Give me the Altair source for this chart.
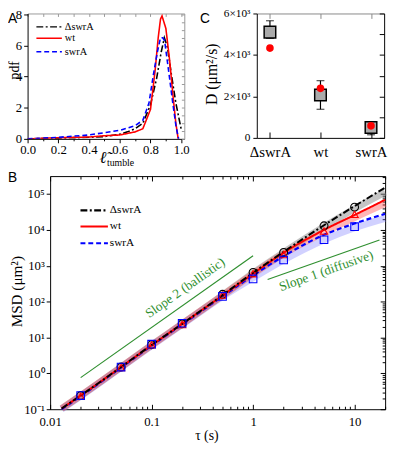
import altair as alt
import pandas as pd

SERIF = "Liberation Serif"
SANS = "Liberation Sans"
GREEN = "#2f8f2f"

strains = ["ΔswrA", "wt", "swrA"]
line_colors = ["#000000", "#ff0000", "#0000ff"]
line_dashes = [[7, 2.5, 2, 2.5], [1, 0], [5, 3]]
marker_shapes = ["circle", "triangle-up", "square"]
# translucent bands, drawn in this order
band_order = ["ΔswrA", "swrA", "wt"]
band_colors = {"ΔswrA": "#8a8a8a", "wt": "#ff5050", "swrA": "#7070ff"}
band_opacity = {"ΔswrA": 0.5, "wt": 0.42, "swrA": 0.32}

# ---------------- Panel A : pdf of normalised tumble length ----------------
A_len = {
    "ΔswrA": [0.0, 0.2, 0.4, 0.5, 0.6, 0.65, 0.7, 0.75, 0.8, 0.84, 0.87, 0.89, 0.91, 0.935, 0.965, 1.0],
    "wt": [0.0, 0.2, 0.4, 0.5, 0.6, 0.65, 0.7, 0.75, 0.8, 0.83, 0.85, 0.865, 0.875, 0.9, 0.925, 0.945, 0.965, 0.98],
    "swrA": [0.0, 0.2, 0.4, 0.5, 0.6, 0.7, 0.75, 0.79, 0.82, 0.845, 0.865, 0.88, 0.892, 0.924, 0.945, 0.966, 0.983],
}
A_pdf = {
    "ΔswrA": [0.0, 0.05, 0.1, 0.15, 0.3, 0.45, 0.65, 1.0, 2.2, 3.9, 5.6, 6.5, 5.9, 4.2, 2.3, 0.6],
    "wt": [0.0, 0.07, 0.12, 0.2, 0.25, 0.35, 0.45, 0.65, 1.9, 4.4, 6.5, 7.7, 7.9, 7.1, 5.0, 2.9, 1.0, 0.0],
    "swrA": [0.0, 0.1, 0.25, 0.4, 0.55, 0.85, 1.2, 2.3, 4.2, 5.6, 6.5, 6.5, 6.3, 3.9, 2.3, 0.8, 0.0],
}
A_xticks = [0.0, 0.1, 0.2, 0.3, 0.4, 0.5, 0.6, 0.7, 0.8, 0.9, 1.0]
A_xlabels = ["0.0", "0.2", "0.4", "0.6", "0.8", "1.0"]
A_yticks = [0, 2, 4, 6, 8]
A_ylabels = ["0", "2", "4", "6", "8"]
A_rticks = [0, 0.5, 1, 1.5, 2, 2.5, 3, 3.5, 4, 4.5, 5, 5.5, 6, 6.5, 7, 7.5, 8]

# ---------------- Panel B : MSD ----------------
B_tau = [0.013, 0.02, 0.05, 0.1, 0.2, 0.5, 1, 2, 5, 10, 20]
B_line = {
    "ΔswrA": [0.105, 0.24, 1.5, 6.2, 24, 152, 640, 2450, 13500, 46000, 150000],
    "wt": [0.105, 0.24, 1.5, 6.1, 24, 148, 600, 2300, 10000, 26000, 69000],
    "swrA": [0.1, 0.23, 1.45, 5.9, 23, 140, 540, 1850, 7300, 15000, 28000],
}
B_band = {
    "ΔswrA": [0.105, 0.24, 1.5, 6.2, 24, 150, 630, 2350, 12300, 39000, 112000],
    "wt": [0.105, 0.24, 1.5, 6.1, 24, 148, 590, 2150, 8500, 22000, 54000],
    "swrA": [0.1, 0.23, 1.45, 5.9, 23, 138, 460, 1450, 5300, 11500, 21000],
}
B_mtau = [0.02, 0.05, 0.1, 0.2, 0.5, 1, 2, 5, 10]
B_marker = {
    "ΔswrA": [0.24, 1.5, 6.3, 24, 160, 650, 2350, 13000, 43000],
    "wt": [0.23, 1.45, 6.2, 23, 152, 600, 2050, 9300, 27000],
    "swrA": [0.24, 1.5, 6.5, 25, 140, 430, 1450, 5300, 12300],
}
slope_tau = {"Slope 2 (ballistic)": [0.02, 1.0], "Slope 1 (diffusive)": [1.39, 17.6]}
slope_msd = {"Slope 2 (ballistic)": [0.76, 1900], "Slope 1 (diffusive)": [415, 5250]}
slope_text_tau = [0.215, 5.25]
slope_text_msd = [240, 713]
slope_text_angle = [324.7, 340.5]

B_xlabels = ["0.01", "0.1", "1", "10"]
B_ylabels = ["10\u207b\u00b9", "10\u2070", "10\u00b9", "10\u00b2", "10\u00b3", "10\u2074", "10\u2075"]
B_ymajor = [0.1, 1, 10, 100, 1000, 10000, 100000]

# ---------------- Panel C : diffusion coefficient ----------------
C_D_square = [5100, 2070, 500]
C_err_lo = [4800, 1380, 150]
C_err_hi = [5650, 2760, 680]
C_D_red = [4330, 2390, 580]
C_yticks = [0, 2000, 4000, 6000]
C_ylabels = ["0", "2\u00d710\u00b3", "4\u00d710\u00b3", "6\u00d710\u00b3"]
C_rticks = [0, 1000, 2000, 3000, 4000, 5000, 6000]


def log_ticks(lo_exp, hi_exp, vmax):
    out = []
    for e in range(lo_exp, hi_exp + 1):
        for k in range(1, 10):
            v = k * 10.0 ** e
            if v <= vmax * 1.0001:
                out.append(v)
    return out


def js_list(items):
    return "[" + ",".join("'" + s + "'" for s in items) + "]"


def text_layer(txt, x, y, size, font=SERIF, angle=None, align="center",
               baseline="middle", color="black", style=None):
    kw = dict(font=font, fontSize=size, align=align, baseline=baseline, color=color)
    if angle is not None:
        kw["angle"] = angle
    if style:
        kw["fontStyle"] = style
    return alt.Chart(pd.DataFrame({"t": [txt]})).mark_text(**kw).encode(
        x=alt.value(x), y=alt.value(y), text="t:N")


def legend_layers(x0, x1, ys, label_x, size, widths):
    out = []
    for s, c, d, y, w in zip(strains, line_colors, line_dashes, ys, widths):
        out.append(alt.Chart(pd.DataFrame({"s": [s]})).mark_rule(
            color=c, strokeDash=d, strokeWidth=w).encode(
            x=alt.value(x0), x2=alt.value(x1), y=alt.value(y)))
        out.append(text_layer(s, label_x, y, size, align="left"))
    return out


def cond_size(test, major, minor):
    return {"condition": {"test": test, "value": major}, "value": minor}


LOGMAJ = "abs(log(datum.value)/LN10 - round(log(datum.value)/LN10)) < 1e-6"

# ======================= Panel A chart =======================
A_sx = alt.Scale(domain=[0, 1.02], nice=False, zero=False)
A_sy = alt.Scale(domain=[0, 8.06], nice=False, zero=False)
dfA = pd.concat([pd.DataFrame({"len": A_len[s], "pdf": A_pdf[s], "strain": s}) for s in strains])

A_major_x = "abs(datum.value*5 - round(datum.value*5)) < 1e-6"
A_lines = alt.Chart(dfA).mark_line(strokeWidth=1.6, clip=True).encode(
    x=alt.X("len:Q", scale=A_sx, axis=alt.Axis(
        values=A_xticks, title=None, grid=False, labelFont=SERIF,
        labelExpr=A_major_x + " ? " + js_list(A_xlabels) + "[round(datum.value*5)] : ''",
        tickSize=cond_size(A_major_x, 4, 2), labelPadding=1, labelFontSize=13,
        labelFlush=False, labelOverlap=False)),
    y=alt.Y("pdf:Q", scale=A_sy, axis=alt.Axis(
        values=A_yticks, title=None, grid=False, labelFont=SERIF,
        labelExpr=js_list(A_ylabels) + "[round(datum.value/2)]",
        tickSize=4, labelPadding=2, labelFontSize=13,
        labelFlush=False, labelOverlap=False)),
    color=alt.Color("strain:N", scale=alt.Scale(domain=strains, range=line_colors), legend=None),
    strokeDash=alt.StrokeDash("strain:N", scale=alt.Scale(domain=strains, range=line_dashes), legend=None),
)
A_mirror = alt.Chart(pd.DataFrame({"len": [0.5], "pdf": [1.0]})).mark_point(opacity=0).encode(
    x=alt.X("len:Q", scale=A_sx, axis=alt.Axis(
        orient="top", values=A_xticks, labels=False, title=None, grid=False,
        tickSize={"expr": "-3"}, domainColor="#999999", tickColor="#999999")),
    y=alt.Y("pdf:Q", scale=A_sy, axis=alt.Axis(
        orient="right", values=A_rticks, labels=False, title=None, grid=False,
        tickSize={"expr": "-3"}, domainColor="#999999", tickColor="#999999")),
)
A_texts = [
    text_layer("A", -20, -1, 14, font=SANS, align="left", baseline="top"),
    text_layer("pdf", -9, 58, 14, angle=270, baseline="alphabetic"),
    text_layer("\u2113\u0303", 77, 153, 17, style="italic", baseline="alphabetic"),
    text_layer("tumble", 81, 156, 10, align="left", baseline="alphabetic"),
]
A_chart = alt.layer(
    A_lines, A_mirror, *A_texts,
    *legend_layers(9, 35, [13.7, 25.3, 39.0], 38, 10.5, [1.4, 1.6, 1.6])
).resolve_axis(x="independent", y="independent").properties(width=160, height=128)

# ======================= Panel C chart =======================
C_sx = alt.Scale(type="point", domain=strains, padding=0.26)
C_sy = alt.Scale(domain=[0, 6000], nice=False, zero=False)
dfC = pd.DataFrame({"strain": strains, "D": C_D_square, "lo": C_err_lo,
                    "hi": C_err_hi, "red": C_D_red})
C_x_none = alt.X("strain:N", scale=C_sx, axis=None)

C_err = alt.Chart(dfC).mark_rule(color="black", strokeWidth=1.2).encode(
    x=alt.X("strain:N", scale=C_sx, axis=alt.Axis(
        title=None, labelAngle=0, labelFontSize=15, labelPadding=13, labelFont=SERIF,
        tickSize={"expr": "-6"}, grid=False)),
    y=alt.Y("lo:Q", scale=C_sy, axis=alt.Axis(
        values=C_yticks, title=None, grid=False, labelFont=SERIF,
        labelExpr=js_list(C_ylabels) + "[round(datum.value/2000)]",
        tickSize=4, labelPadding=3,
        labelFontSize=11.5, labelFlush=False, labelOverlap=False)),
    y2="hi:Q",
)
C_cap_lo = alt.Chart(dfC).mark_tick(color="black", thickness=1.2, size=8).encode(
    x=C_x_none, y=alt.Y("lo:Q", scale=C_sy, axis=None))
C_cap_hi = alt.Chart(dfC).mark_tick(color="black", thickness=1.2, size=8).encode(
    x=C_x_none, y=alt.Y("hi:Q", scale=C_sy, axis=None))
C_sq = alt.Chart(dfC).mark_square(size=140, fill="#aaaaaa", stroke="black",
                                  strokeWidth=1.5, opacity=1).encode(
    x=C_x_none, y=alt.Y("D:Q", scale=C_sy, axis=None))
C_red = alt.Chart(dfC).mark_circle(size=60, color="#ff0000", opacity=1).encode(
    x=C_x_none, y=alt.Y("red:Q", scale=C_sy, axis=None))
C_mirror = alt.Chart(dfC).mark_point(opacity=0).encode(
    x=alt.X("strain:N", scale=C_sx, axis=alt.Axis(
        orient="top", labels=False, title=None, grid=False, tickSize={"expr": "-5"},
        domainColor="#888888", tickColor="#888888")),
    y=alt.Y("D:Q", scale=C_sy, axis=alt.Axis(
        orient="right", values=C_rticks, labels=False, title=None, grid=False,
        tickSize={"expr": "-5"})),
)
C_texts = [
    text_layer("C", -58, -1, 14, font=SANS, align="left", baseline="top"),
    text_layer("D (\u03bcm\u00b2/s)", -41, 62, 16, angle=270, baseline="alphabetic"),
]
C_chart = alt.layer(C_err, C_cap_lo, C_cap_hi, C_sq, C_red, C_mirror, *C_texts).resolve_axis(
    x="independent", y="independent").properties(width=130, height=127)

# ======================= Panel B chart =======================
# the plot area of B is shifted right of panel A's left edge by BX px
BX = 23
BW = 342
B_sx = alt.Scale(type="log", domain=[0.01, 20], nice=False, range=[BX, BX + BW])
B_sy = alt.Scale(type="log", domain=[0.1, 316228], nice=False)
B_xt = log_ticks(-2, 1, 20)
B_yt = log_ticks(-1, 5, 316228)


def bx(axis=None):
    return alt.X("tau:Q", scale=B_sx, axis=axis)


def by(axis=None):
    return alt.Y("msd:Q", scale=B_sy, axis=axis)


B_layers = []
for s in band_order:
    d = pd.DataFrame({"tau": B_tau, "msd": B_band[s]})
    B_layers.append(alt.Chart(d).mark_line(color=band_colors[s], strokeWidth=7,
                                           opacity=band_opacity[s],
                                           interpolate="monotone").encode(x=bx(), y=by()))
for s, c, dsh, w in zip(strains[::-1], line_colors[::-1], line_dashes[::-1], [2.0, 2.0, 2.2][::-1]):
    d = pd.DataFrame({"tau": B_tau, "msd": B_line[s]})
    B_layers.append(alt.Chart(d).mark_line(color=c, strokeDash=dsh, strokeWidth=w,
                                           interpolate="monotone").encode(x=bx(), y=by()))
for s, c, shp, sz in zip(strains, line_colors, marker_shapes, [65, 55, 60]):
    d = pd.DataFrame({"tau": B_mtau, "msd": B_marker[s]})
    B_layers.append(alt.Chart(d).mark_point(shape=shp, color=c, filled=False, size=sz,
                                            strokeWidth=1.1, opacity=1).encode(x=bx(), y=by()))

dfS = pd.concat([pd.DataFrame({"tau": slope_tau[k], "msd": slope_msd[k], "name": k}) for k in slope_tau])
B_layers.append(alt.Chart(dfS).mark_line(color=GREEN, strokeWidth=1.2).encode(
    x=bx(), y=by(), detail="name:N"))
for name, tt, mm, ang in zip(slope_tau.keys(), slope_text_tau, slope_text_msd, slope_text_angle):
    B_layers.append(alt.Chart(pd.DataFrame({"tau": [tt], "msd": [mm], "t": [name]})).mark_text(
        font=SERIF, fontSize=13.5, color=GREEN, angle=ang, align="center", baseline="middle").encode(
        x=bx(), y=by(), text="t:N"))

B_axes = alt.Chart(pd.DataFrame({"tau": [1.0], "msd": [1.0]})).mark_point(opacity=0).encode(
    x=bx(alt.Axis(values=B_xt, title=None, grid=False, labelFont=SERIF,
                  labelExpr=LOGMAJ + " ? " + js_list(B_xlabels) + "[round(log(datum.value)/LN10)+2] : ''",
                  tickSize=cond_size(LOGMAJ, -5, -3), labelPadding=12, labelFontSize=13,
                  labelFlush=False, labelOverlap=False)),
    y=by(alt.Axis(values=B_ymajor, title=None, grid=False, offset=-BX, labelFont=SERIF,
                  labelExpr=js_list(B_ylabels) + "[round(log(datum.value)/LN10)+1]",
                  tickSize=4, labelPadding=2, labelFontSize=13,
                  labelFlush=False, labelOverlap=False)),
)
B_mirror = alt.Chart(pd.DataFrame({"tau": [1.0], "msd": [1.0]})).mark_point(opacity=0).encode(
    x=bx(alt.Axis(orient="top", values=B_xt, labels=False, title=None, grid=False,
                  tickSize=cond_size(LOGMAJ, -5, -3))),
    y=by(alt.Axis(orient="right", values=B_yt, labels=False, title=None, grid=False,
                  offset=BX + BW - 160, tickSize=cond_size(LOGMAJ, -5, -3))),
)
B_texts = [
    text_layer("B", -20, -5, 14, font=SANS, align="left", baseline="top"),
    text_layer("MSD (\u03bcm\u00b2)", BX - 29, 118, 15.5, angle=270, baseline="alphabetic"),
    text_layer("\u03c4 (s)", BX + 160, 269, 14, baseline="alphabetic"),
]
B_chart = alt.layer(
    B_axes, B_mirror, *B_layers, *B_texts,
    *legend_layers(BX + 31, BX + 59, [35, 51.5, 68.5], BX + 61, 11.5, [2.2, 2.0, 2.0])
).resolve_axis(x="independent", y="independent").properties(width=160, height=238)

# ======================= layout =======================
chart = alt.concat(
    A_chart, C_chart, B_chart,
    columns=2, spacing={"row": 38, "column": 74}, bounds="flush",
).properties(
    autosize=alt.AutoSizeParams(type="none"),
    padding={"left": 20, "top": 1, "right": 371, "bottom": 440},
).configure_view(stroke=None).configure_axis(
    labelFont=SERIF, labelColor="black", domainColor="black", tickColor="black",
    domainWidth=1, tickWidth=1, titleFont=SERIF,
)

chart.save("out.html", embed_options={"renderer": "svg", "actions": False})
